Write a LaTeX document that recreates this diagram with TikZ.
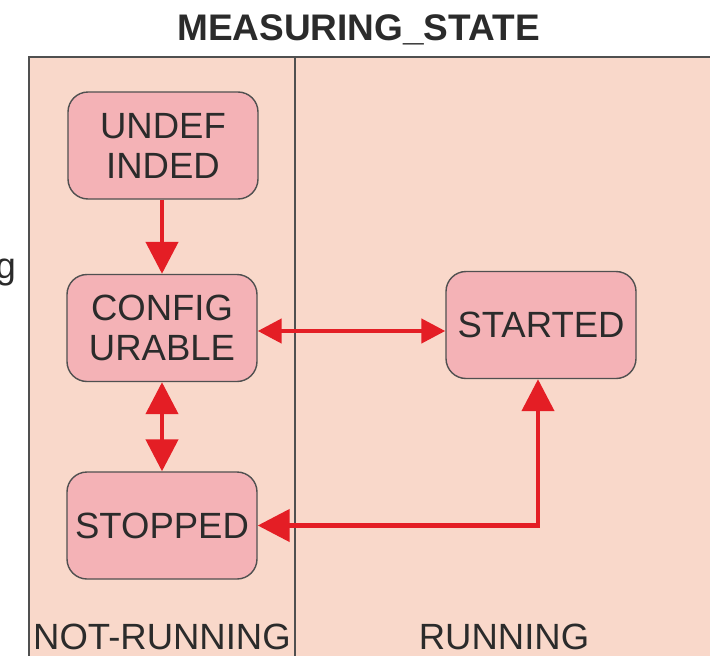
\documentclass[tikz,border=0pt]{standalone}
\usepackage{fontspec}
\setmainfont{Liberation Sans}
\usetikzlibrary{arrows.meta}

\definecolor{lanefill}{HTML}{F9D8CA}
\definecolor{statefill}{HTML}{F4B2B6}
\definecolor{edgegray}{HTML}{505050}
\definecolor{inkgray}{HTML}{2B2B2B}
\definecolor{flowred}{HTML}{E41E25}

\tikzset{
  statebox/.style={draw=edgegray, line width=1.4pt, fill=statefill,
    rounded corners=20pt, minimum width=190pt, minimum height=107pt,
    inner sep=0pt, align=center, text=inkgray,
    font=\fontsize{36.5}{40}\selectfont},
  lanetext/.style={anchor=base, text=inkgray, inner sep=0pt,
    font=\fontsize{36.5}{40}\selectfont},
  flow/.style={draw=flowred, line width=4.5pt},
  bigtips/.style={flow, {Triangle[length=32pt,width=32pt]}-{Triangle[length=32pt,width=32pt]}},
  bigtip/.style={flow, -{Triangle[length=32pt,width=32pt]}},
  smalltips/.style={flow, {Triangle[length=24pt,width=24pt]}-{Triangle[length=24pt,width=24pt]}},
}

\begin{document}
\begin{tikzpicture}[x=1pt, y=-1pt]
  \useasboundingbox (0,0) rectangle (710,656);

  % swimlane frame
  \fill[lanefill] (29,57) rectangle (714,690);
  \draw[edgegray, line width=1.5pt] (29,690) -- (29,57) -- (714,57) -- (714,690);
  \draw[edgegray, line width=1.5pt] (295,57) -- (295,690);

  % title
  \node[anchor=base, inner sep=0pt, text=inkgray,
        font=\fontsize{37}{40}\selectfont\bfseries] (title) at (358.5,40) {MEASURING\_STATE};

  % trailing letter of a side label
  \node[anchor=base east, inner sep=0pt, text=inkgray,
        font=\fontsize{36.5}{40}\selectfont] (sidelabel) at (16,278) {g};

  % lane labels
  \node[lanetext] (notrunning) at (162,649) {NOT-RUNNING};
  \node[lanetext] (running) at (504,649) {RUNNING};

  % states
  \node[statebox] (undef) at (163,145.5) {UNDEF\\INDED};
  \node[statebox] (config) at (162,328) {CONFIG\\URABLE};
  \node[statebox] (stopped) at (162,525.5) {STOPPED};
  \node[statebox] (started) at (541,325) {STARTED};

  % transitions
  \draw[bigtip] (undef.south -| config) -- (config.north);
  \draw[bigtips] (config.south) -- (stopped.north);
  \draw[smalltips] ([yshift=-3pt]config.east) -- ([yshift=-3pt]config.east -| started.west);
  \draw[bigtips] ([xshift=-3pt]started.south) |- (stopped.east);
\end{tikzpicture}
\end{document}
